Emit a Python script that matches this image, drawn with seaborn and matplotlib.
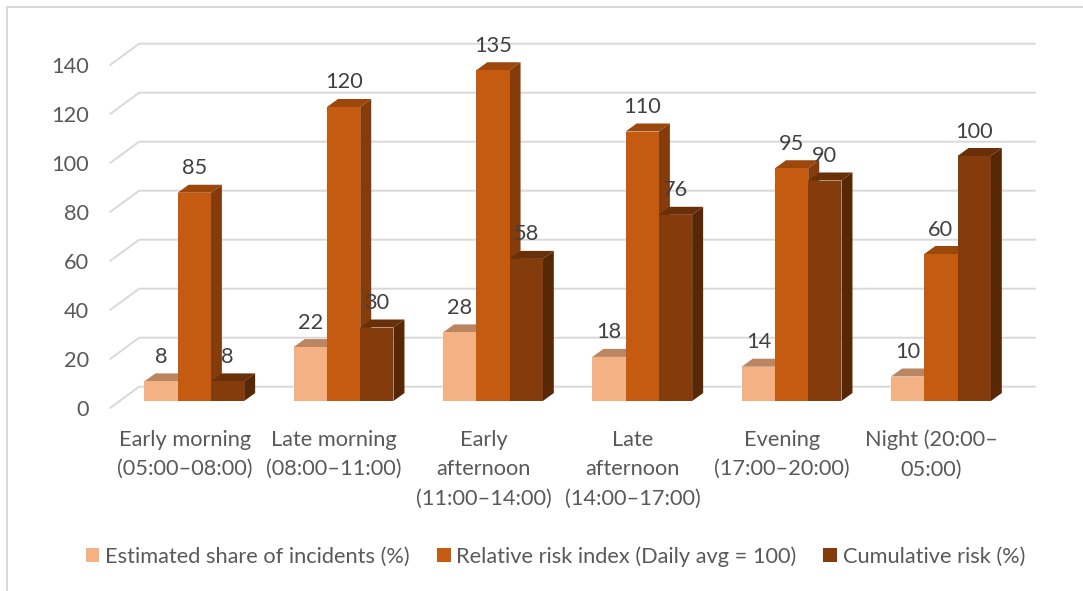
import matplotlib
matplotlib.use("Agg")
import matplotlib.pyplot as plt
from matplotlib.lines import Line2D
from matplotlib.patches import Polygon, Patch
from matplotlib.transforms import ScaledTranslation
import pandas as pd
import seaborn as sns

periods = ["Early morning\n(05:00–08:00)", "Late morning\n(08:00–11:00)",
           "Early\nafternoon\n(11:00–14:00)", "Late\nafternoon\n(14:00–17:00)",
           "Evening\n(17:00–20:00)", "Night (20:00–\n05:00)"]
share_of_incidents = [8, 22, 28, 18, 14, 10]
relative_risk = [85, 120, 135, 110, 95, 60]
cumulative_risk = [8, 30, 58, 76, 90, 100]
series_names = ["Estimated share of incidents (%)",
                "Relative risk index (Daily avg = 100)",
                "Cumulative risk (%)"]
front_colors = ["#F4B183", "#C55A11", "#843C0C"]
top_colors = ["#BA8560", "#9C470B", "#682F09"]
side_colors = ["#A87650", "#843C0C", "#572706"]
y_ticks = [0, 20, 40, 60, 80, 100, 120, 140]

W, H = 1083, 591
DPI = 100
TEXT_AXIS = "#595959"
TEXT_LABEL = "#404040"
GRID = "#D9D9D9"
FONT = 15.7

sns.set_theme(style="white", rc={"font.family": "Lato"})

frame = pd.DataFrame({
    "period": periods * 3,
    "series": [s for s in series_names for _ in periods],
    "value": share_of_incidents + relative_risk + cumulative_risk,
})

fig = plt.figure(figsize=(W / DPI, H / DPI), dpi=DPI, facecolor="white")
# Plot area in pixels: the plane through the bar fronts
left, right, base, top = 119.6, 1015.6, 401.0, 58.0
ax = fig.add_axes([left / W, 1 - base / H, (right - left) / W, (base - top) / H])
ax.patch.set_visible(False)

sns.barplot(data=frame, x="period", y="value", hue="series", order=periods,
            hue_order=series_names, palette=front_colors, width=0.668, gap=0,
            dodge=True, linewidth=0, saturation=1, legend=False, ax=ax)
ax.set_xlim(-0.5, 5.5)
ax.set_ylim(0, 140)
ax.set_xlabel("")
ax.set_ylabel("")
sns.despine(ax=ax, left=True, bottom=True)

px_x = (len(periods)) / (right - left)
px_y = 140 / (base - top)


def depth(dx, dy):
    """Pixel offset on screen expressed in data units (dy measured upward)."""
    return dx * px_x, dy * px_y


# Back wall gridlines and the slanted floor/wall connectors
wall_dx, wall_dy = depth(19.5, 14.3)
near_dx, near_dy = depth(-9.5, -7.0)
for v in y_ticks:
    ax.plot([-0.5 + near_dx, -0.5 + wall_dx, 5.5 + wall_dx],
            [v + near_dy, v + wall_dy, v + wall_dy],
            color=GRID, lw=1.4, clip_on=False, zorder=1,
            solid_joinstyle="miter")

# Bars: each box gets its top and right faces behind its front face
bar_dx, bar_dy = depth(11, 8)
z = 3
for s_idx, container in enumerate(ax.containers):
    for rect in container:
        x0, x1 = rect.get_x(), rect.get_x() + rect.get_width()
        h = rect.get_height()
        ax.add_patch(Polygon([(x0, h), (x0 + bar_dx, h + bar_dy),
                              (x1 + bar_dx, h + bar_dy), (x1, h)],
                             closed=True, fc=top_colors[s_idx], lw=0,
                             clip_on=False, zorder=z))
        ax.add_patch(Polygon([(x1, 0), (x1 + bar_dx, bar_dy),
                              (x1 + bar_dx, h + bar_dy), (x1, h)],
                             closed=True, fc=side_colors[s_idx], lw=0,
                             clip_on=False, zorder=z))
        rect.set_zorder(z + 0.5)
        rect.set_clip_on(False)
    z += 1

# Value labels sit above each bar's front edge
for container in ax.containers:
    for rect in container:
        h = rect.get_height()
        ax.annotate(f"{h:.0f}", (rect.get_x() + rect.get_width() / 2, h),
                    xytext=(0, 24.5 * 72 / DPI), textcoords="offset points",
                    ha="center", va="center", fontsize=FONT,
                    color=TEXT_LABEL, zorder=20, annotation_clip=False)

# Axis labels follow the near edge of the floor
ax.set_yticks(y_ticks)
ax.tick_params(axis="y", length=0, pad=30.6 * 72 / DPI, labelsize=FONT,
               labelcolor=TEXT_AXIS)
ax.tick_params(axis="x", length=0, pad=28.5 * 72 / DPI, labelsize=FONT,
               labelcolor=TEXT_AXIS)
y_shift = ScaledTranslation(0, -7 / DPI, fig.dpi_scale_trans)
x_shift = ScaledTranslation(-9.5 / DPI, 0, fig.dpi_scale_trans)
for lab in ax.get_yticklabels():
    lab.set_transform(lab.get_transform() + y_shift)
for lab in ax.get_xticklabels():
    lab.set_transform(lab.get_transform() + x_shift)
    lab.set_linespacing(1.6)

handles = [Patch(fc=c, lw=0, label=n) for c, n in zip(front_colors, series_names)]
fig.legend(handles=handles, loc="center left", bbox_to_anchor=(85.5 / W, 1 - 556.5 / H),
           ncol=3, frameon=False, fontsize=FONT, labelcolor=TEXT_AXIS,
           handlelength=0.64, handleheight=0.64, handletextpad=0.27,
           columnspacing=1.22, borderpad=0, borderaxespad=0)

# Outer chart border: only the top and left edges fall inside the canvas
fig.add_artist(Line2D([7 / W, 7 / W, 1], [0, 1 - 6.5 / H, 1 - 6.5 / H],
                      transform=fig.transFigure, color=GRID, lw=1.4,
                      solid_joinstyle="miter"))

fig.savefig("out.png", dpi=DPI)
